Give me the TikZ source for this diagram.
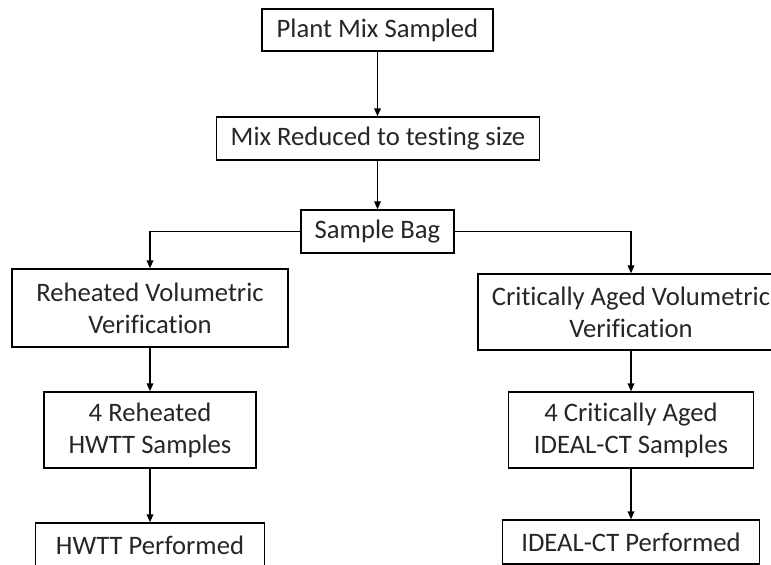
\documentclass[tikz,border=0pt]{standalone}
\usepackage{fontspec}
\setmainfont{Carlito}[Ligatures=NoCommon]
\usetikzlibrary{arrows.meta}
\definecolor{inkgray}{HTML}{262626}

\begin{document}
\begin{tikzpicture}[x=0.75pt,y=-0.75pt,
  stage/.style 2 args={draw=black,line width=1.1pt,fill=white,align=center,
    text=inkgray,font=\fontsize{20}{24}\selectfont,inner sep=0pt,
    minimum width=#1*0.75pt,minimum height=#2*0.75pt},
  flow/.style={line width=1.1pt,-{Triangle[length=6pt,width=5pt]}}]
  \fill[white] (0,0) rectangle (771,564);
  \useasboundingbox (0,0) rectangle (771,564);
  % main trunk
  \node[stage={231}{42}] (plant) at (377.5,30) {Plant Mix Sampled};
  \node[stage={323}{43}] (reduce) at (378,138.5) {Mix Reduced to testing size};
  \node[stage={153}{43}] (bag) at (377.5,231.5) {Sample Bag};
  % reheated branch
  \node[stage={276}{78}] (reheat) at (150,308) {Reheated Volumetric\\Verification};
  \node[stage={212}{76}] (hwtt) at (150,430) {4 Reheated\\HWTT Samples};
  \node[stage={229}{44}] (hwttdone) at (150,545) {HWTT Performed};
  % critically aged branch
  \node[stage={306}{76}] (critical) at (631,312) {Critically Aged Volumetric\\Verification};
  \node[stage={245}{76}] (ideal) at (631,430) {4 Critically Aged\\IDEAL-CT Samples};
  \node[stage={257}{44}] (idealdone) at (631,542) {IDEAL-CT Performed};

  \draw[flow] (plant.south) -- (plant.south |- reduce.north);
  \draw[flow] (plant.south |- reduce.south) -- (plant.south |- bag.north);
  \draw[flow] (bag.west) -| (reheat.north);
  \draw[flow] (bag.east) -| (critical.north);
  \draw[flow] (reheat.south) -- (hwtt.north);
  \draw[flow] (hwtt.south) -- (hwttdone.north);
  \draw[flow] (critical.south) -- (ideal.north);
  \draw[flow] (ideal.south) -- (idealdone.north);
\end{tikzpicture}
\end{document}
